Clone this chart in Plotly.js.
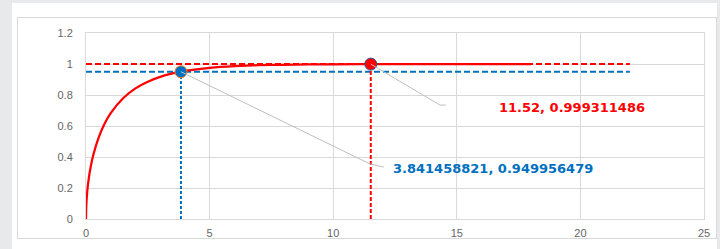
<!DOCTYPE html>
<html>
<head>
<meta charset="utf-8">
<script src="https://cdn.plot.ly/plotly-3.0.1.min.js"></script>
<style>
  html, body { margin: 0; padding: 0; background: #e8e9eb; }
  #wrap { position: relative; width: 720px; height: 249px; overflow: hidden; }
  #panel { position: absolute; left: 12px; top: 3px; width: 705px; height: 246px; background: #ffffff; }
  #frame { position: absolute; left: 17px; top: 17px; width: 698px; height: 220px; border: 1px solid #d9d9d9; }
  #chart { position: absolute; left: 0; top: 0; width: 720px; height: 249px; }
</style>
</head>
<body>
<div id="wrap">
  <div id="panel"></div>
  <div id="frame"></div>
  <div id="chart"></div>
</div>
<script>
// Curve (cumulative probability)
const curveX = [0, 0.01, 0.05, 0.1, 0.2, 0.3, 0.5, 0.75, 1, 1.5, 2, 2.5, 3, 3.5, 3.84, 4, 5, 6, 7, 8, 9, 10, 12, 14, 16, 18];
const curveY = [0, 0.080, 0.177, 0.248, 0.345, 0.416, 0.520, 0.614, 0.683, 0.779, 0.843, 0.886, 0.917, 0.939, 0.950, 0.955, 0.975, 0.986, 0.992, 0.995, 0.997, 0.998, 0.9995, 0.9998, 0.99994, 0.99998];

// Highlighted points
const pointBlueX = [3.841458821];
const pointBlueY = [0.949956479];
const pointRedX = [11.52];
const pointRedY = [0.999311486];

// Reference lines
const refLineEndX = 22;
const labelBlue = "3.841458821, 0.949956479";
const labelRed = "11.52, 0.999311486";

const xTicks = [0, 5, 10, 15, 20, 25];
const yTicks = [0, 0.2, 0.4, 0.6, 0.8, 1, 1.2];

const RED = "#ff0000";
const BLUE = "#0070c0";

const traces = [
  { x: [0, refLineEndX], y: [1, 1], mode: "lines", line: { color: RED, width: 2, dash: "6px,3px" }, hoverinfo: "skip" },
  { x: [0, refLineEndX], y: [pointBlueY[0], pointBlueY[0]], mode: "lines", line: { color: BLUE, width: 2, dash: "6px,3px" }, hoverinfo: "skip" },
  { x: [pointBlueX[0], pointBlueX[0]], y: [0, pointBlueY[0]], mode: "lines", line: { color: BLUE, width: 2, dash: "3px,2px" }, hoverinfo: "skip" },
  { x: [pointRedX[0], pointRedX[0]], y: [0, pointRedY[0]], mode: "lines", line: { color: RED, width: 2, dash: "4px,2px" }, hoverinfo: "skip" },
  { x: curveX, y: curveY, mode: "lines", line: { color: RED, width: 2.25, shape: "spline", smoothing: 0.6 }, hoverinfo: "skip" },
  { x: pointBlueX, y: pointBlueY, mode: "markers", marker: { color: BLUE, size: 12, line: { color: "#ed7d31", width: 1 } }, hoverinfo: "skip" },
  { x: pointRedX, y: pointRedY, mode: "markers", marker: { color: RED, size: 12, line: { color: "#2f5597", width: 1 } }, hoverinfo: "skip" }
];

const LABEL_FONT = "DejaVu Sans, Verdana, sans-serif";

const layout = {
  width: 720,
  height: 249,
  margin: { l: 86, r: 16, t: 33, b: 30 },
  paper_bgcolor: "rgba(0,0,0,0)",
  plot_bgcolor: "rgba(0,0,0,0)",
  showlegend: false,
  font: { family: "Liberation Sans, Arial, sans-serif", size: 11, color: "#666666" },
  xaxis: {
    range: [0, 25], tickvals: xTicks, ticktext: xTicks.map(String),
    showgrid: true, gridcolor: "#d9d9d9", gridwidth: 1, zeroline: false,
    showline: true, linecolor: "#d9d9d9", linewidth: 1, mirror: true,
    ticks: "", ticklabelstandoff: 4, fixedrange: true
  },
  yaxis: {
    range: [0, 1.2], tickvals: yTicks, ticktext: yTicks.map(String),
    showgrid: true, gridcolor: "#d9d9d9", gridwidth: 1, zeroline: false,
    showline: true, linecolor: "#d9d9d9", linewidth: 1, mirror: true,
    ticks: "", ticklabelstandoff: 10, fixedrange: true
  },
  shapes: [
    { type: "path", xref: "x", yref: "y",
      path: `M ${pointBlueX[0]} ${pointBlueY[0]} L 11.49 0.355 L 12.05 0.335`,
      line: { color: "#bfbfbf", width: 1 } },
    { type: "path", xref: "x", yref: "y",
      path: `M ${pointRedX[0]} ${pointRedY[0]} L 14.32 0.735 L 14.56 0.735`,
      line: { color: "#bfbfbf", width: 1 } }
  ],
  annotations: [
    { x: 12.34, y: 0.323, xref: "x", yref: "y", text: "<b>" + labelBlue + "</b>", showarrow: false,
      xanchor: "left", yanchor: "middle", font: { family: LABEL_FONT, size: 13, color: BLUE } },
    { x: 16.63, y: 0.722, xref: "x", yref: "y", text: "<b>" + labelRed + "</b>", showarrow: false,
      xanchor: "left", yanchor: "middle", font: { family: LABEL_FONT, size: 13, color: RED } }
  ]
};

Plotly.newPlot("chart", traces, layout, { staticPlot: true, displayModeBar: false });
</script>
</body>
</html>
